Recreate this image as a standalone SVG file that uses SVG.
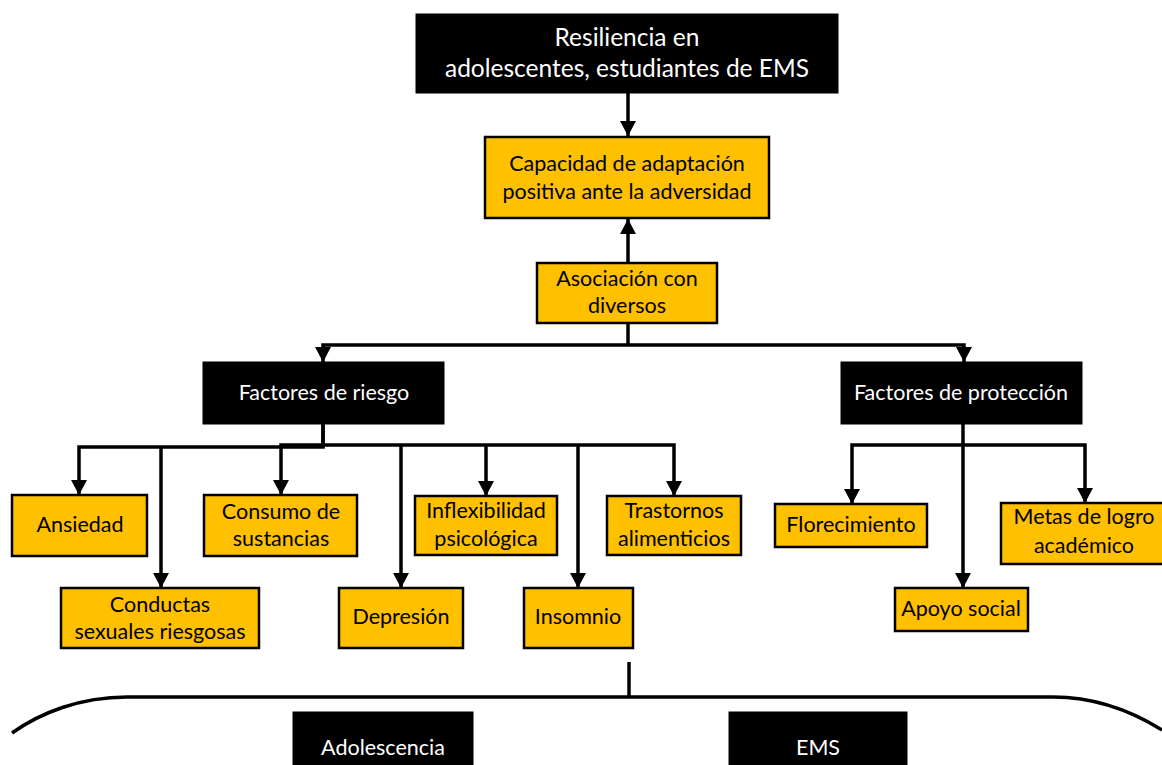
<svg xmlns="http://www.w3.org/2000/svg" width="1162" height="765" viewBox="0 0 1162 765">
  <style>
    .dark { fill: #000000; stroke: #000000; stroke-width: 1; }
    .gold { fill: #FFC000; stroke: #000000; stroke-width: 2.5; }
    .t { font-family: Lato, "Liberation Sans", sans-serif; font-size: 21.5px; text-anchor: middle; }
    .tw { fill: #ffffff; }
    .tb { fill: #000000; }
    .big { font-size: 24.5px; }
    .link { fill: none; stroke: #000000; stroke-width: 3.5; stroke-linejoin: miter; }
    .arrow { marker-end: url(#head); }
  </style>
  <defs>
    <marker id="head" markerUnits="userSpaceOnUse" markerWidth="16" markerHeight="16" refX="15" refY="8" orient="auto">
      <path d="M0,0 L15,8 L0,16 Z" fill="#000000"/>
    </marker>
  </defs>

  <!-- connectors -->
  <g id="connectors">
    <path class="link arrow" d="M628,93 V136"/>
    <path class="link arrow" d="M628,263 V219"/>
    <path class="link" d="M628,323 V345"/>
    <path class="link arrow" d="M628,345 H323 V362"/>
    <path class="link arrow" d="M628,345 H964 V362"/>
    <!-- risk factors -->
    <path class="link arrow" d="M323,424 V447 H79 V495"/>
    <path class="link arrow" d="M161,447 V588"/>
    <path class="link" d="M323,424 V445"/>
    <path class="link arrow" d="M323,445 H281 V495"/>
    <path class="link arrow" d="M323,445 H674 V496"/>
    <path class="link arrow" d="M401,445 V588"/>
    <path class="link arrow" d="M486,445 V496"/>
    <path class="link arrow" d="M578,445 V588"/>
    <!-- protective factors -->
    <path class="link arrow" d="M963,424 V588"/>
    <path class="link arrow" d="M963,445 H852 V504"/>
    <path class="link arrow" d="M963,445 H1085 V503"/>
    <!-- brace over the context boxes -->
    <path class="link" d="M629,662 V697"/>
    <path class="link" stroke-width="4" d="M12,733 C40,713 80,697 127,697 H1053 C1095,697 1130,710 1162,730"/>
  </g>

  <g id="resiliencia">
    <rect class="dark" x="416" y="14" width="422" height="79"/>
    <text class="t tw big" x="627" y="46">Resiliencia en</text>
    <text class="t tw big" x="627" y="77">adolescentes, estudiantes de EMS</text>
  </g>

  <g id="capacidad">
    <rect class="gold" x="485" y="137" width="284" height="81"/>
    <text class="t tb" x="627" y="171">Capacidad de adaptación</text>
    <text class="t tb" x="627" y="199">positiva ante la adversidad</text>
  </g>

  <g id="asociacion">
    <rect class="gold" x="537" y="263" width="180" height="60"/>
    <text class="t tb" x="627" y="286">Asociación con</text>
    <text class="t tb" x="627" y="313">diversos</text>
  </g>

  <g id="factores-riesgo">
    <rect class="dark" x="203" y="362" width="241" height="62"/>
    <text class="t tw" x="324" y="400">Factores de riesgo</text>
  </g>

  <g id="factores-proteccion">
    <rect class="dark" x="841" y="362" width="241" height="62"/>
    <text class="t tw" x="961" y="400">Factores de protección</text>
  </g>

  <g id="ansiedad">
    <rect class="gold" x="12" y="495" width="135" height="61"/>
    <text class="t tb" x="80" y="532">Ansiedad</text>
  </g>

  <g id="conductas">
    <rect class="gold" x="61" y="588" width="198" height="60"/>
    <text class="t tb" x="160" y="612">Conductas</text>
    <text class="t tb" x="160" y="639">sexuales riesgosas</text>
  </g>

  <g id="consumo">
    <rect class="gold" x="204" y="495" width="153" height="61"/>
    <text class="t tb" x="281" y="519">Consumo de</text>
    <text class="t tb" x="281" y="546">sustancias</text>
  </g>

  <g id="depresion">
    <rect class="gold" x="339" y="588" width="124" height="60"/>
    <text class="t tb" x="401" y="624">Depresión</text>
  </g>

  <g id="inflexibilidad">
    <rect class="gold" x="415" y="496" width="142" height="59"/>
    <text class="t tb" x="486" y="518">Inflexibilidad</text>
    <text class="t tb" x="486" y="546">psicológica</text>
  </g>

  <g id="insomnio">
    <rect class="gold" x="524" y="588" width="109" height="60"/>
    <text class="t tb" x="578" y="624">Insomnio</text>
  </g>

  <g id="trastornos">
    <rect class="gold" x="607" y="496" width="134" height="59"/>
    <text class="t tb" x="674" y="518">Trastornos</text>
    <text class="t tb" x="674" y="546">alimenticios</text>
  </g>

  <g id="florecimiento">
    <rect class="gold" x="775" y="504" width="152" height="43"/>
    <text class="t tb" x="851" y="532">Florecimiento</text>
  </g>

  <g id="apoyo-social">
    <rect class="gold" x="895" y="588" width="133" height="43"/>
    <text class="t tb" x="961" y="616">Apoyo social</text>
  </g>

  <g id="metas">
    <rect class="gold" x="1001" y="503" width="170" height="61"/>
    <text class="t tb" x="1084" y="524">Metas de logro</text>
    <text class="t tb" x="1084" y="553">académico</text>
  </g>

  <g id="adolescencia">
    <rect class="dark" x="293" y="712" width="180" height="60"/>
    <text class="t tw" x="383" y="755">Adolescencia</text>
  </g>

  <g id="ems">
    <rect class="dark" x="729" y="712" width="178" height="60"/>
    <text class="t tw" x="818" y="755">EMS</text>
  </g>
</svg>
